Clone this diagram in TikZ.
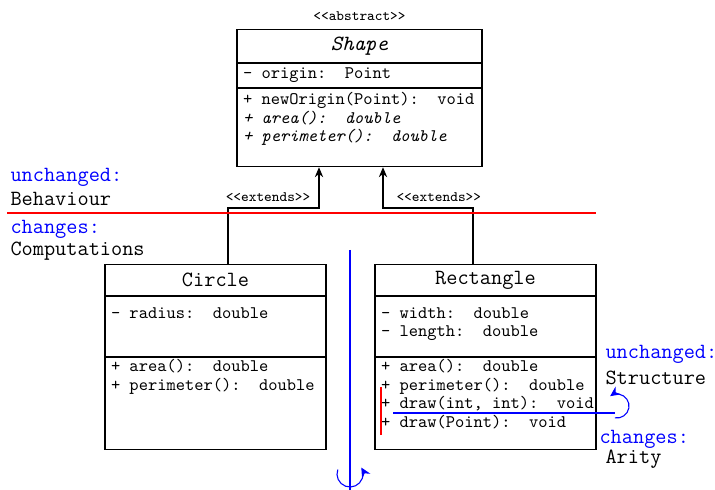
\documentclass[tikz,border=0pt]{standalone}
\usetikzlibrary{positioning, arrows.meta}
\newcommand{\umlpx}{0.553pt}

\begin{document}
\begin{tikzpicture}[x=\umlpx,y=-\umlpx,>={Stealth[length=5.5pt,width=4.6pt]},semithick,
  classpart/.style={draw,anchor=north,inner sep=0pt,minimum width=221*\umlpx},
  members/.style={anchor=north west,align=left,inner sep=0pt,font=\ttfamily\fontsize{9.75}{10.2}\selectfont},
  stereo/.style={font=\ttfamily\footnotesize},
  aspect/.style={anchor=west,inner sep=0pt,font=\ttfamily\large},
  aspecttag/.style={aspect,text=blue},
  symaxis/.style={blue},
  spin/.style={blue,-{Stealth[length=5.5pt,width=5.2pt]}},
  ]
  \useasboundingbox (0,0) rectangle (715,490);
  % abstract class
  \node[classpart,minimum width=245*\umlpx,minimum height=33*\umlpx,font=\ttfamily\large] (shape) at (359.5,29) {\textit{Shape}};
  \node[classpart,minimum width=245*\umlpx,minimum height=24*\umlpx,below=0pt of shape] (shapeattr) {};
  \node[classpart,minimum width=245*\umlpx,minimum height=78*\umlpx,below=0pt of shapeattr] (shapeops) {};
  \node[stereo,above=1pt of shape] (shapestereo) {<<abstract>>};
  \node[members] (shapeattrtext) at ([shift={(6,4)}]shapeattr.north west) {- origin:~~Point};
  \node[members] (shapeopstext) at ([shift={(6,4)}]shapeops.north west) {+ newOrigin(Point):~~void\\\textit{+ area():~~double}\\\textit{+ perimeter():~~double}};
  % subclasses
  \node[classpart,minimum height=31*\umlpx,font=\ttfamily\large] (circle) at (215.5,264) {Circle};
  \node[classpart,minimum height=60*\umlpx,below=0pt of circle] (circleattr) {};
  \node[classpart,minimum height=92*\umlpx,below=0pt of circleattr] (circleops) {};
  \node[members] (circleattrtext) at ([shift={(6,11)}]circleattr.north west) {- radius:~~double};
  \node[members] (circleopstext) at ([shift={(6,2)}]circleops.north west) {+ area():~~double\\+ perimeter():~~double};
  \node[classpart,minimum height=31*\umlpx,font=\ttfamily\large] (rect) at (485.5,264) {Rectangle};
  \node[classpart,minimum height=60*\umlpx,below=0pt of rect] (rectattr) {};
  \node[classpart,minimum height=92*\umlpx,below=0pt of rectattr] (rectops) {};
  \node[members] (rectattrtext) at ([shift={(6,11)}]rectattr.north west) {- width:~~double\\- length:~~double};
  \node[members] (rectopstext) at ([shift={(6,2)}]rectops.north west) {+ area():~~double\\+ perimeter():~~double\\+ draw(int, int):~~void\\+ draw(Point):~~void};
  % inheritance
  \draw[->] ([shift={(12.5,0)}]circle.north) -- ++(0,-56) -| node[stereo,above,pos=0.22] (extendsleft) {<<extends>>} ([shift={(-40.5,0)}]shapeops.south);
  \draw[->] ([shift={(-12.5,0)}]rect.north) -- ++(0,-56) -| node[stereo,above,pos=0.19] (extendsright) {<<extends>>} ([shift={(23.5,0)}]shapeops.south);
  % behaviour / computations
  \draw[red,line width=1.1pt] (7,213) -- (596,213);
  \node[aspecttag] (behaviourtag) at (10,177) {unchanged:};
  \node[aspect] (behaviour) at (10,199) {Behaviour};
  \node[aspecttag] (computationstag) at (10,229) {changes:};
  \node[aspect] (computations) at (10,251) {Computations};
  \coordinate (axistop) at (350,250);
  \coordinate (axisbottom) at (350,490);
  \draw[symaxis] (axistop) -- (axisbottom);
  \draw[spin] (350,474) ++(200:13) arc[start angle=200,end angle=-30,radius=13];
  % structure / arity
  \draw[red,line width=1.1pt] (381,387) -- (381,435);
  \coordinate (arityaxisstart) at (393,413);
  \coordinate (arityaxisend) at (615,413);
  \draw[symaxis] (arityaxisstart) -- (arityaxisend);
  \draw[spin] (617,406) ++(100:12) arc[start angle=100,end angle=-125,radius=12];
  \node[aspecttag] (structuretag) at (605,354) {unchanged:};
  \node[aspect] (structure) at (605,378) {Structure};
  \node[aspecttag] (aritytag) at (599,439) {changes:};
  \node[aspect] (arity) at (605,459) {Arity};
\end{tikzpicture}
\end{document}
